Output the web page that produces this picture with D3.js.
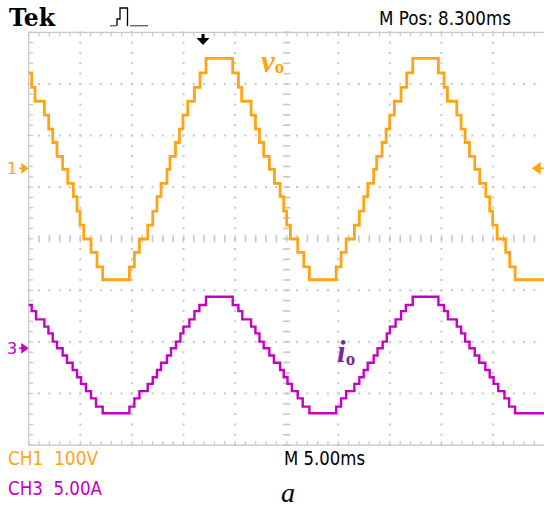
<!DOCTYPE html>
<html>
<head>
<meta charset="utf-8">
<script src="https://cdn.jsdelivr.net/npm/d3@7"></script>
<style>
  html, body { margin: 0; padding: 0; background: #fff; }
  svg { display: block; }
</style>
</head>
<body>
<svg id="chart" width="544" height="509"></svg>
<script>
// ---------------- DATA ----------------
const ch1Label = "CH1  100V";
const ch3Label = "CH3  5.00A";
const timeLabel = "M 5.00ms";
const posLabel = "M Pos: 8.300ms";
const voltsPerDiv = 100;    // V/div
const ampsPerDiv = 5;       // A/div
const msPerDiv = 5;         // ms/div
const ch1Offset = 1.364;    // ground marker of CH1, divisions above centre
const ch3Offset = -2.124;   // ground marker of CH3, divisions above centre
const triggerTime = 16.89;  // trigger arrow position on screen (ms)

// output voltage v_o: step start times (ms from left edge of screen) and level (V)
const vTime = [
  0, 0.29, 0.61, 1.52, 1.94, 2.33, 2.74, 3.29, 3.78, 4.33, 4.68, 4.97, 5.33, 6.04, 6.62, 7.17,
  9.76, 10.24, 10.73, 11.53, 12.02, 12.43, 12.82, 13.40, 13.69, 14.22, 14.60, 14.95, 15.41, 16.06, 16.60, 17.18,
  19.77, 20.32, 20.64, 21.55, 21.97, 22.36, 22.77, 23.32, 23.81, 24.36, 24.71, 25.00, 25.36, 26.07, 26.65, 27.20,
  29.79, 30.27, 30.76, 31.56, 32.04, 32.46, 32.85, 33.43, 33.72, 34.24, 34.63, 34.98, 35.43, 36.08, 36.63, 37.21,
  39.70, 40.25, 40.57, 41.48, 41.90, 42.29, 42.71, 43.22, 43.70, 44.29, 44.67, 44.96, 45.39, 46.22, 46.61, 47.13,
  50
];
const vVolt = [
  185, 157, 130, 103, 76, 50, 23, -2, -29, -55, -83, -110, -137, -163, -191, -216,
  -191, -163, -137, -110, -83, -55, -29, -2, 23, 50, 76, 103, 130, 157, 185, 213,
  185, 157, 130, 103, 76, 50, 23, -2, -29, -55, -83, -110, -137, -163, -191, -216,
  -191, -163, -137, -110, -83, -55, -29, -2, 23, 50, 76, 103, 130, 157, 185, 213,
  185, 157, 130, 103, 76, 50, 23, -2, -29, -55, -83, -110, -137, -163, -191, -216,
  -216
];

// output current i_o: step start times (ms) and level (A)
const iTime = [
  0, 0.29, 0.71, 1.52, 1.91, 2.33, 2.74, 3.29, 3.71, 4.26, 4.68, 5.07, 5.55, 6.04, 6.52, 7.17,
  9.76, 10.24, 10.73, 11.53, 12.02, 12.43, 12.82, 13.40, 13.79, 14.27, 14.70, 14.99, 15.57, 16.06, 16.54, 17.18,
  19.77, 20.32, 20.70, 21.55, 21.97, 22.36, 22.77, 23.32, 23.76, 24.36, 24.71, 25.08, 25.50, 26.07, 26.55, 27.20,
  29.79, 30.27, 30.76, 31.56, 32.04, 32.46, 32.85, 33.43, 33.80, 34.30, 34.70, 35.00, 35.55, 36.08, 36.55, 37.21,
  39.70, 40.25, 40.62, 41.48, 41.90, 42.29, 42.71, 43.22, 43.66, 44.25, 44.67, 45.05, 45.50, 46.10, 46.55, 47.13,
  50
];
const iAmp = [
  4.2, 3.6, 2.8, 2.1, 1.45, 0.65, 0.0, -0.7, -1.4, -2.1, -2.8, -3.45, -4.15, -4.85, -5.65, -6.3,
  -5.65, -4.85, -4.15, -3.45, -2.8, -2.1, -1.4, -0.7, 0.0, 0.65, 1.45, 2.1, 2.8, 3.6, 4.2, 5.0,
  4.2, 3.6, 2.8, 2.1, 1.45, 0.65, 0.0, -0.7, -1.4, -2.1, -2.8, -3.45, -4.15, -4.85, -5.65, -6.3,
  -5.65, -4.85, -4.15, -3.45, -2.8, -2.1, -1.4, -0.7, 0.0, 0.65, 1.45, 2.1, 2.8, 3.6, 4.2, 5.0,
  4.2, 3.6, 2.8, 2.1, 1.45, 0.65, 0.0, -0.7, -1.4, -2.1, -2.8, -3.45, -4.15, -4.85, -5.65, -6.3,
  -6.3
];

// ---------------- LAYOUT ----------------
const svg = d3.select("#chart");
const plotLeft = 28.7, plotTop = 32.3, divPx = 51.6;
const ORANGE = "#FFA416", PURPLE = "#C400C4", GRID = "#c6c6c6";

const x = d3.scaleLinear().domain([0, 10 * msPerDiv]).range([plotLeft, plotLeft + 10 * divPx]);
const yDiv = d3.scaleLinear().domain([-4, 4]).range([plotTop + 8 * divPx, plotTop]);
const yV = v => yDiv(v / voltsPerDiv + ch1Offset);
const yI = a => yDiv(a / ampsPerDiv + ch3Offset);

const g = svg.append("g");

// border (left, top, bottom)
g.append("path")
  .attr("d", `M${x(50)},${yDiv(4)} H${x(0)} V${yDiv(-4)} H${x(50)}`)
  .attr("fill", "none").attr("stroke", GRID).attr("stroke-width", 1.2);

const minorX = d3.range(0, 50.001, msPerDiv / 5);
const minorY = d3.range(-4, 4.001, 0.2);

// border ticks
g.append("g").selectAll("line").data(minorX).join("line")
  .attr("x1", d => x(d)).attr("x2", d => x(d))
  .attr("y1", yDiv(4)).attr("y2", yDiv(4) + 4)
  .attr("stroke", GRID).attr("stroke-width", 1.2);
g.append("g").selectAll("line").data(minorX).join("line")
  .attr("x1", d => x(d)).attr("x2", d => x(d))
  .attr("y1", yDiv(-4)).attr("y2", yDiv(-4) - 4)
  .attr("stroke", GRID).attr("stroke-width", 1.2);
g.append("g").selectAll("line").data(minorY).join("line")
  .attr("x1", x(0)).attr("x2", x(0) + 4.5)
  .attr("y1", d => yDiv(d)).attr("y2", d => yDiv(d))
  .attr("stroke", GRID).attr("stroke-width", 1.2);

// grid dots on division lines
const vLines = d3.range(1, 10).filter(k => k !== 5).map(k => k * msPerDiv);
const hLines = d3.range(-3, 4).filter(k => k !== 0);
const dots = [];
vLines.forEach(t => minorY.forEach(d => dots.push([x(t), yDiv(d)])));
hLines.forEach(d => minorX.forEach(t => dots.push([x(t), yDiv(d)])));
g.append("g").selectAll("rect").data(dots).join("rect")
  .attr("x", d => d[0] - 1).attr("y", d => d[1] - 1)
  .attr("width", 2).attr("height", 2).attr("fill", GRID);

// centre cross-hair ticks
g.append("g").selectAll("line").data(minorY).join("line")
  .attr("x1", x(25) - 3.5).attr("x2", x(25) + 3.5)
  .attr("y1", d => yDiv(d)).attr("y2", d => yDiv(d))
  .attr("stroke", GRID).attr("stroke-width", 1.6);
g.append("g").selectAll("line").data(minorX).join("line")
  .attr("x1", d => x(d)).attr("x2", d => x(d))
  .attr("y1", yDiv(0) - 3.5).attr("y2", yDiv(0) + 3.5)
  .attr("stroke", GRID).attr("stroke-width", 1.6);

// ---------------- TRACES ----------------
const stepLine = (fy) => d3.line().x(d => x(d[0])).y(d => fy(d[1])).curve(d3.curveStepAfter);
const vData = vTime.map((t, k) => [t, vVolt[k]]);
const iData = iTime.map((t, k) => [t, iAmp[k]]);

svg.append("path").datum(iData)
  .attr("d", stepLine(yI))
  .attr("fill", "none").attr("stroke", PURPLE).attr("stroke-width", 2.4);
svg.append("path").datum(vData)
  .attr("d", stepLine(yV))
  .attr("fill", "none").attr("stroke", ORANGE).attr("stroke-width", 2.8);

// ---------------- MARKERS ----------------
function chMarker(label, yy, color) {
  svg.append("text").text(label)
    .attr("x", 7).attr("y", yy + 6)
    .attr("font-family", "DejaVu Sans").attr("font-size", 16)
    .attr("fill", color);
  svg.append("path")
    .attr("d", `M19,${yy} H23 M22,${yy - 4} L27.5,${yy} L22,${yy + 4} Z`)
    .attr("stroke", color).attr("stroke-width", 1.4).attr("fill", color);
}
chMarker("1", yV(0), ORANGE);
chMarker("3", yI(0), PURPLE);

// trigger level marker (right)
svg.append("path")
  .attr("d", `M533,${yV(0)} L540,${yV(0) - 5} L540,${yV(0) + 5} Z M539,${yV(0)} H544`)
  .attr("fill", ORANGE).attr("stroke", ORANGE).attr("stroke-width", 1.4);

// trigger position arrow (top)
const tx = x(triggerTime);
svg.append("path")
  .attr("d", `M${tx - 1.5},34 H${tx + 1.5} V38 H${tx + 6.5} L${tx},45 L${tx - 6.5},38 H${tx - 1.5} Z`)
  .attr("fill", "#000");

// ---------------- TEXT ----------------
svg.append("text").text("Tek")
  .attr("x", 9).attr("y", 26)
  .attr("font-family", "DejaVu Serif").attr("font-weight", "bold")
  .attr("font-size", 24).attr("textLength", 46).attr("lengthAdjust", "spacingAndGlyphs")
  .attr("fill", "#000");

svg.append("path")
  .attr("d", "M117,26 V19 H120 V8 H127.5 V26")
  .attr("fill", "none").attr("stroke", "#000").attr("stroke-width", 1.3);
svg.append("g").selectAll("rect")
  .data([110.5, 112.5, 114.5, 130.5, 132.5, 134.5, 136.5, 138.5, 140.5, 142.5, 144.5, 146.5])
  .join("rect")
  .attr("x", d => d).attr("y", 25).attr("width", 1.2).attr("height", 1.4).attr("fill", "#000");

svg.append("text").text(posLabel)
  .attr("x", 379).attr("y", 25)
  .attr("font-family", "DejaVu Sans").attr("font-size", 20)
  .attr("textLength", 132).attr("lengthAdjust", "spacingAndGlyphs")
  .attr("fill", "#000");

svg.append("text").text(ch1Label)
  .attr("x", 8).attr("y", 465).attr("xml:space", "preserve")
  .attr("font-family", "DejaVu Sans").attr("font-size", 20)
  .attr("textLength", 90).attr("lengthAdjust", "spacingAndGlyphs")
  .attr("fill", ORANGE);
svg.append("text").text(ch3Label)
  .attr("x", 8).attr("y", 495).attr("xml:space", "preserve")
  .attr("font-family", "DejaVu Sans").attr("font-size", 20)
  .attr("textLength", 94).attr("lengthAdjust", "spacingAndGlyphs")
  .attr("fill", PURPLE);
svg.append("text").text(timeLabel)
  .attr("x", 284).attr("y", 465)
  .attr("font-family", "DejaVu Sans").attr("font-size", 20)
  .attr("textLength", 81).attr("lengthAdjust", "spacingAndGlyphs")
  .attr("fill", "#000");

svg.append("text").text("a")
  .attr("x", 281).attr("y", 502)
  .attr("font-family", "Liberation Serif").attr("font-style", "italic")
  .attr("font-size", 28).attr("fill", "#000");

const vLab = svg.append("text")
  .attr("x", 261).attr("y", 72)
  .attr("font-family", "Liberation Serif").attr("font-style", "italic").attr("font-weight", "bold")
  .attr("font-size", 31).attr("fill", ORANGE);
vLab.append("tspan").text("v");
vLab.append("tspan").text("o").attr("font-size", 19).attr("font-style", "normal").attr("dy", 1);

const iLab = svg.append("text")
  .attr("x", 337).attr("y", 362)
  .attr("font-family", "Liberation Serif").attr("font-style", "italic").attr("font-weight", "bold")
  .attr("font-size", 31).attr("fill", "#7a2a96");
iLab.append("tspan").text("i");
iLab.append("tspan").text("o").attr("font-size", 19).attr("font-style", "normal").attr("dy", 3);
</script>
</body>
</html>
